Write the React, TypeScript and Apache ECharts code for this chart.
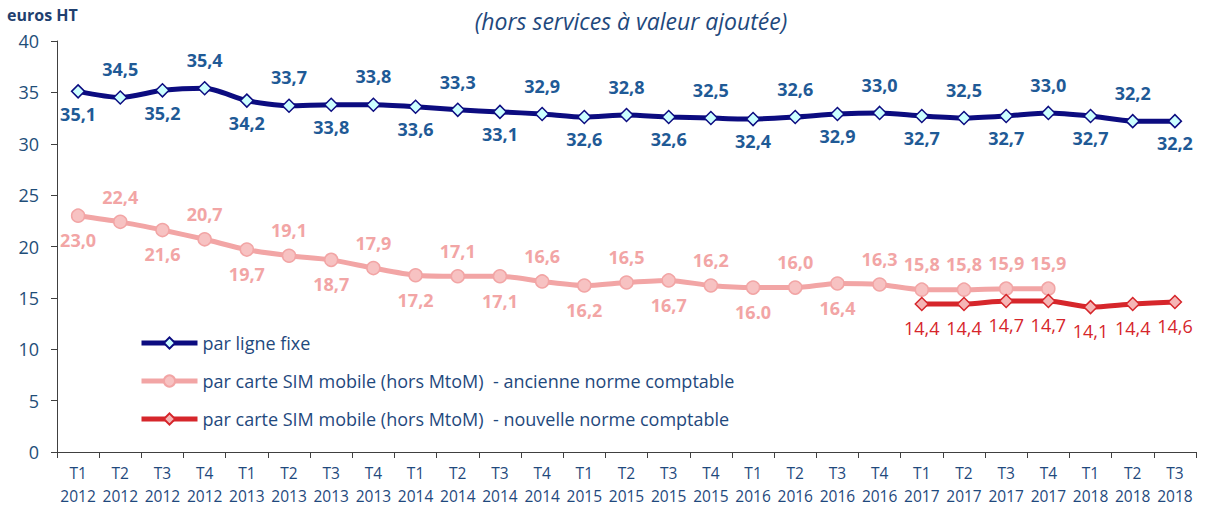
import React, { useEffect, useRef } from "react";
import * as echarts from "echarts";

const categories = [
  "T1\n2012", "T2\n2012", "T3\n2012", "T4\n2012",
  "T1\n2013", "T2\n2013", "T3\n2013", "T4\n2013",
  "T1\n2014", "T2\n2014", "T3\n2014", "T4\n2014",
  "T1\n2015", "T2\n2015", "T3\n2015", "T4\n2015",
  "T1\n2016", "T2\n2016", "T3\n2016", "T4\n2016",
  "T1\n2017", "T2\n2017", "T3\n2017", "T4\n2017",
  "T1\n2018", "T2\n2018", "T3\n2018",
];

const fixe = [
  35.1, 34.5, 35.2, 35.4, 34.2, 33.7, 33.8, 33.8, 33.6, 33.3, 33.1, 32.9, 32.6,
  32.8, 32.6, 32.5, 32.4, 32.6, 32.9, 33.0, 32.7, 32.5, 32.7, 33.0, 32.7, 32.2, 32.2,
];

const mobileAncienne = [
  23.0, 22.4, 21.6, 20.7, 19.7, 19.1, 18.7, 17.9, 17.2, 17.1, 17.1, 16.6, 16.2,
  16.5, 16.7, 16.2, 16.0, 16.0, 16.4, 16.3, 15.8, 15.8, 15.9, 15.9,
];

const mobileNouvelle = [
  null, null, null, null, null, null, null, null, null, null, null, null, null,
  null, null, null, null, null, null, null, 14.4, 14.4, 14.7, 14.7, 14.1, 14.4, 14.6,
];

// indices where the source prints a dot instead of a comma
const pinkDotLabels = [16];

const seriesNames = [
  "par ligne fixe",
  "par carte SIM mobile (hors MtoM)  - ancienne norme comptable",
  "par carte SIM mobile (hors MtoM)  - nouvelle norme comptable",
];

const yTicks = { min: 0, max: 40, interval: 5 };

const FONT = "'Open Sans', 'Noto Sans', sans-serif";

const fmt = (v: number, dot = false) => {
  const s = v.toFixed(1);
  return dot ? s : s.replace(".", ",");
};

export default function App() {
  const ref = useRef<HTMLDivElement>(null);

  useEffect(() => {
    if (!ref.current) return;
    const chart = echarts.init(ref.current, undefined, { renderer: "svg" });

    const blueData = fixe.map((v, i) => ({
      value: v,
      label: {
        position: i % 2 === 0 ? "bottom" : "top",
        distance: i % 2 === 0 ? 6 : 12,
      },
    }));

    const pinkData = mobileAncienne.map((v, i) => {
      const below = i < 20 && i % 2 === 0;
      return {
        value: v,
        label: {
          position: below ? "bottom" : "top",
          distance: below ? 8 : 9,
          formatter: () => fmt(v, pinkDotLabels.includes(i)),
        },
      };
    });

    const redData = mobileNouvelle.map((v) =>
      v === null ? null : { value: v, label: { position: "bottom", distance: 8 } }
    );

    chart.setOption({
      animation: false,
      backgroundColor: "#ffffff",
      grid: { left: 57, right: 13, top: 41, bottom: 57, containLabel: false },
      graphic: [
        {
          type: "text",
          left: 7,
          top: 7,
          style: {
            text: "euros HT",
            font: `bold 16px ${FONT}`,
            fill: "#1F3F6F",
          },
        },
        {
          type: "text",
          x: 631,
          y: 21,
          style: {
            text: "(hors services à valeur ajoutée)",
            font: `italic 23px ${FONT}`,
            fill: "#1F497D",
            align: "center",
            verticalAlign: "middle",
          },
        },
      ],
      legend: {
        orient: "vertical",
        left: 134,
        top: 328,
        itemWidth: 56,
        itemHeight: 14,
        itemGap: 18,
        data: seriesNames,
        lineStyle: { width: 5 },
        textStyle: {
          fontFamily: FONT,
          fontSize: 18,
          color: "#1F497D",
          lineHeight: 20,
        },
      },
      xAxis: {
        type: "category",
        data: categories,
        boundaryGap: true,
        axisLine: { show: true, lineStyle: { color: "#404040", width: 1 } },
        axisTick: { show: true, length: 6, alignWithLabel: false, lineStyle: { color: "#404040" } },
        axisLabel: {
          interval: 0,
          margin: 9,
          fontFamily: FONT,
          fontSize: 15.5,
          lineHeight: 23,
          color: "#1F497D",
        },
        splitLine: { show: false },
      },
      yAxis: {
        type: "value",
        min: yTicks.min,
        max: yTicks.max,
        interval: yTicks.interval,
        axisLine: { show: true, lineStyle: { color: "#404040", width: 1 } },
        axisTick: { show: true, length: 6, lineStyle: { color: "#404040" } },
        axisLabel: {
          fontFamily: FONT,
          fontSize: 18,
          color: "#1F4E79",
          margin: 18,
        },
        splitLine: { show: false },
      },
      series: [
        {
          name: seriesNames[0],
          type: "line",
          data: blueData,
          smooth: 0.25,
          symbol: "diamond",
          symbolSize: 13,
          lineStyle: { color: "#0C0C80", width: 5 },
          itemStyle: { color: "#CCFFFF", borderColor: "#0C0C80", borderWidth: 1.5 },
          label: {
            show: true,
            fontFamily: FONT,
            fontSize: 18,
            fontWeight: "bold",
            color: "#1F5A96",
            formatter: (p: any) => fmt(p.value),
          },
          z: 3,
        },
        {
          name: seriesNames[1],
          type: "line",
          data: pinkData,
          smooth: 0.25,
          symbol: "circle",
          symbolSize: 13,
          lineStyle: { color: "#F2A5A5", width: 5 },
          itemStyle: { color: "#F7C2C2", borderColor: "#F2A5A5", borderWidth: 1.5 },
          label: {
            show: true,
            fontFamily: FONT,
            fontSize: 18,
            fontWeight: "bold",
            color: "#F2A5A5",
          },
          z: 2,
        },
        {
          name: seriesNames[2],
          type: "line",
          data: redData,
          smooth: 0.25,
          symbol: "diamond",
          symbolSize: 13,
          lineStyle: { color: "#D6262B", width: 5 },
          itemStyle: { color: "#F5B5B5", borderColor: "#D6262B", borderWidth: 1.5 },
          label: {
            show: true,
            fontFamily: FONT,
            fontSize: 18,
            color: "#D6262B",
            formatter: (p: any) => fmt(p.value),
          },
          z: 4,
        },
      ],
    });

    return () => chart.dispose();
  }, []);

  return <div ref={ref} style={{ width: 1209, height: 509, position: "absolute", left: 0, top: 0 }} />;
}
